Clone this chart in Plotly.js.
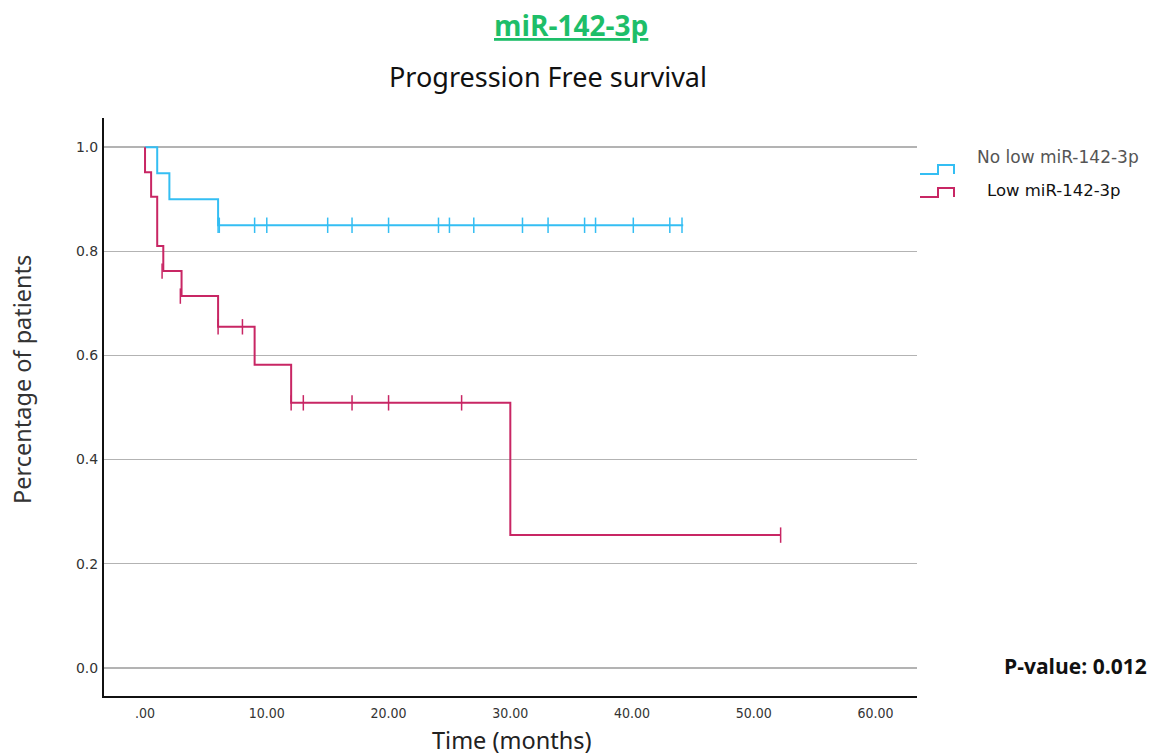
<!DOCTYPE html>
<html>
<head>
<meta charset="utf-8">
<script src="https://cdn.plot.ly/plotly-3.0.1.min.js"></script>
<style>html,body{margin:0;padding:0;background:#fff;}#chart{width:1158px;height:755px;}</style>
</head>
<body>
<div id="chart"></div>
<script>
// Kaplan-Meier step data (time in months, survival proportion)
var blueName = "No low miR-142-3p";
var blueTimes = [0, 1.0, 2.0, 6.0, 44.2];
var blueSurv  = [1.0, 0.95, 0.90, 0.85, 0.85];
var blueCensorTimes = [6.0, 6.1, 9.0, 10.0, 15.0, 17.0, 20.0, 24.1, 25.0, 27.0, 31.0, 33.1, 36.1, 37.0, 40.1, 43.1, 44.1];
var blueCensorSurv  = [0.85, 0.85, 0.85, 0.85, 0.85, 0.85, 0.85, 0.85, 0.85, 0.85, 0.85, 0.85, 0.85, 0.85, 0.85, 0.85, 0.85];

var redName = "Low miR-142-3p";
var redTimes = [0, 0, 0.5, 1.0, 1.5, 3.0, 6.0, 9.0, 12.0, 30.0, 52.2];
var redSurv  = [1.0, 0.952, 0.905, 0.810, 0.762, 0.714, 0.655, 0.582, 0.509, 0.255, 0.255];
var redCensorTimes = [1.4, 2.9, 6.0, 8.0, 12.0, 13.0, 17.0, 20.0, 26.0, 52.2];
var redCensorSurv  = [0.762, 0.714, 0.655, 0.655, 0.509, 0.509, 0.509, 0.509, 0.509, 0.255];

var xTickVals = [0, 10, 20, 30, 40, 50, 60];
var xTickText = [".00", "10.00", "20.00", "30.00", "40.00", "50.00", "60.00"];
var yTickVals = [0, 0.2, 0.4, 0.6, 0.8, 1.0];
var yTickText = ["0.0", "0.2", "0.4", "0.6", "0.8", "1.0"];

var blueColor = "rgb(52,190,243)";
var redColor = "rgb(200,38,100)";

var traces = [
  {x: blueTimes, y: blueSurv, type: "scatter", mode: "lines", line: {shape: "hv", color: blueColor, width: 2}, name: blueName, showlegend: false, hoverinfo: "skip"},
  {x: redTimes, y: redSurv, type: "scatter", mode: "lines", line: {shape: "hv", color: redColor, width: 2}, name: redName, showlegend: false, hoverinfo: "skip"},
  {x: blueCensorTimes, y: blueCensorSurv, type: "scatter", mode: "markers", marker: {symbol: "line-ns-open", size: 11, color: blueColor, line: {color: blueColor, width: 1.5}}, showlegend: false, hoverinfo: "skip"},
  {x: redCensorTimes, y: redCensorSurv, type: "scatter", mode: "markers", marker: {symbol: "line-ns-open", size: 11, color: redColor, line: {color: redColor, width: 1.5}}, showlegend: false, hoverinfo: "skip"}
];

// legend glyph geometry in paper coordinates (x: 1 = right edge of plot)
function px2paperX(px){ return (px - 104) / (917 - 104); }
function px2paperY(py){ return (696 - py) / (696 - 118); }

function stepGlyph(x0, x1, x2, yLow, yHigh, color){
  return {type: "path", xref: "paper", yref: "paper",
    path: "M " + px2paperX(x0) + "," + px2paperY(yLow) + " L " + px2paperX(x1) + "," + px2paperY(yLow) +
          " L " + px2paperX(x1) + "," + px2paperY(yHigh) + " L " + px2paperX(x2) + "," + px2paperY(yHigh) +
          " L " + px2paperX(x2) + "," + px2paperY(yHigh + 9),
    line: {color: color, width: 2}};
}

var layout = {
  width: 1158, height: 755,
  margin: {l: 104, r: 241, t: 118, b: 59},
  paper_bgcolor: "#fff", plot_bgcolor: "#fff",
  showlegend: false,
  xaxis: {
    range: [-3.37, 63.4], tickvals: xTickVals, ticktext: xTickText,
    showgrid: false, zeroline: false, showline: true, linecolor: "#111", linewidth: 2,
    ticks: "outside", ticklen: 3, tickcolor: "rgba(0,0,0,0)",
    tickfont: {family: "DejaVu Sans Condensed, DejaVu Sans, sans-serif", size: 14, color: "#333"},
    fixedrange: true
  },
  yaxis: {
    range: [-0.054, 1.056], tickvals: yTickVals, ticktext: yTickText,
    showgrid: true, gridcolor: "#b3b3b3", gridwidth: 1.5, zeroline: false,
    showline: true, linecolor: "#111", linewidth: 2, ticks: "outside", ticklen: 1, tickcolor: "rgba(0,0,0,0)",
    tickfont: {family: "DejaVu Sans, sans-serif", size: 14, color: "#333"},
    fixedrange: true
  },
  annotations: [
    {text: "<b><u>miR-142-3p</u></b>", xref: "paper", yref: "paper", x: px2paperX(571), y: px2paperY(25), xanchor: "center", yanchor: "middle", showarrow: false,
     font: {family: "Open Sans, sans-serif", size: 28, color: "rgb(30,190,105)"}},
    {text: "Progression Free survival", xref: "paper", yref: "paper", x: px2paperX(548), y: px2paperY(76), xanchor: "center", yanchor: "middle", showarrow: false,
     font: {family: "Noto Sans, sans-serif", size: 27, color: "#111"}},
    {text: "Percentage of patients", xref: "paper", yref: "paper", x: px2paperX(22), y: px2paperY(380), xanchor: "center", yanchor: "middle", textangle: -90, showarrow: false,
     font: {family: "Noto Sans, sans-serif", size: 23.5, color: "#333"}},
    {text: "Time (months)", xref: "paper", yref: "paper", x: px2paperX(512), y: px2paperY(740), xanchor: "center", yanchor: "middle", showarrow: false,
     font: {family: "Noto Sans, sans-serif", size: 23.5, color: "#222"}},
    {text: blueName, xref: "paper", yref: "paper", x: px2paperX(975), y: px2paperY(157), xanchor: "left", yanchor: "middle", showarrow: false,
     font: {family: "DejaVu Sans, sans-serif", size: 17, color: "#555"}},
    {text: redName, xref: "paper", yref: "paper", x: px2paperX(985), y: px2paperY(190), xanchor: "left", yanchor: "middle", showarrow: false,
     font: {family: "DejaVu Sans, sans-serif", size: 16.5, color: "#111"}},
    {text: "<b>P-value: 0.012</b>", xref: "paper", yref: "paper", x: px2paperX(1075), y: px2paperY(666), xanchor: "center", yanchor: "middle", showarrow: false,
     font: {family: "Open Sans, sans-serif", size: 21, color: "#111"}}
  ],
  shapes: [
    stepGlyph(920, 938, 954, 174, 165, blueColor),
    stepGlyph(920, 938, 954, 197, 188, redColor)
  ]
};

Plotly.newPlot("chart", traces, layout, {displayModeBar: false, staticPlot: true});
</script>
</body>
</html>
